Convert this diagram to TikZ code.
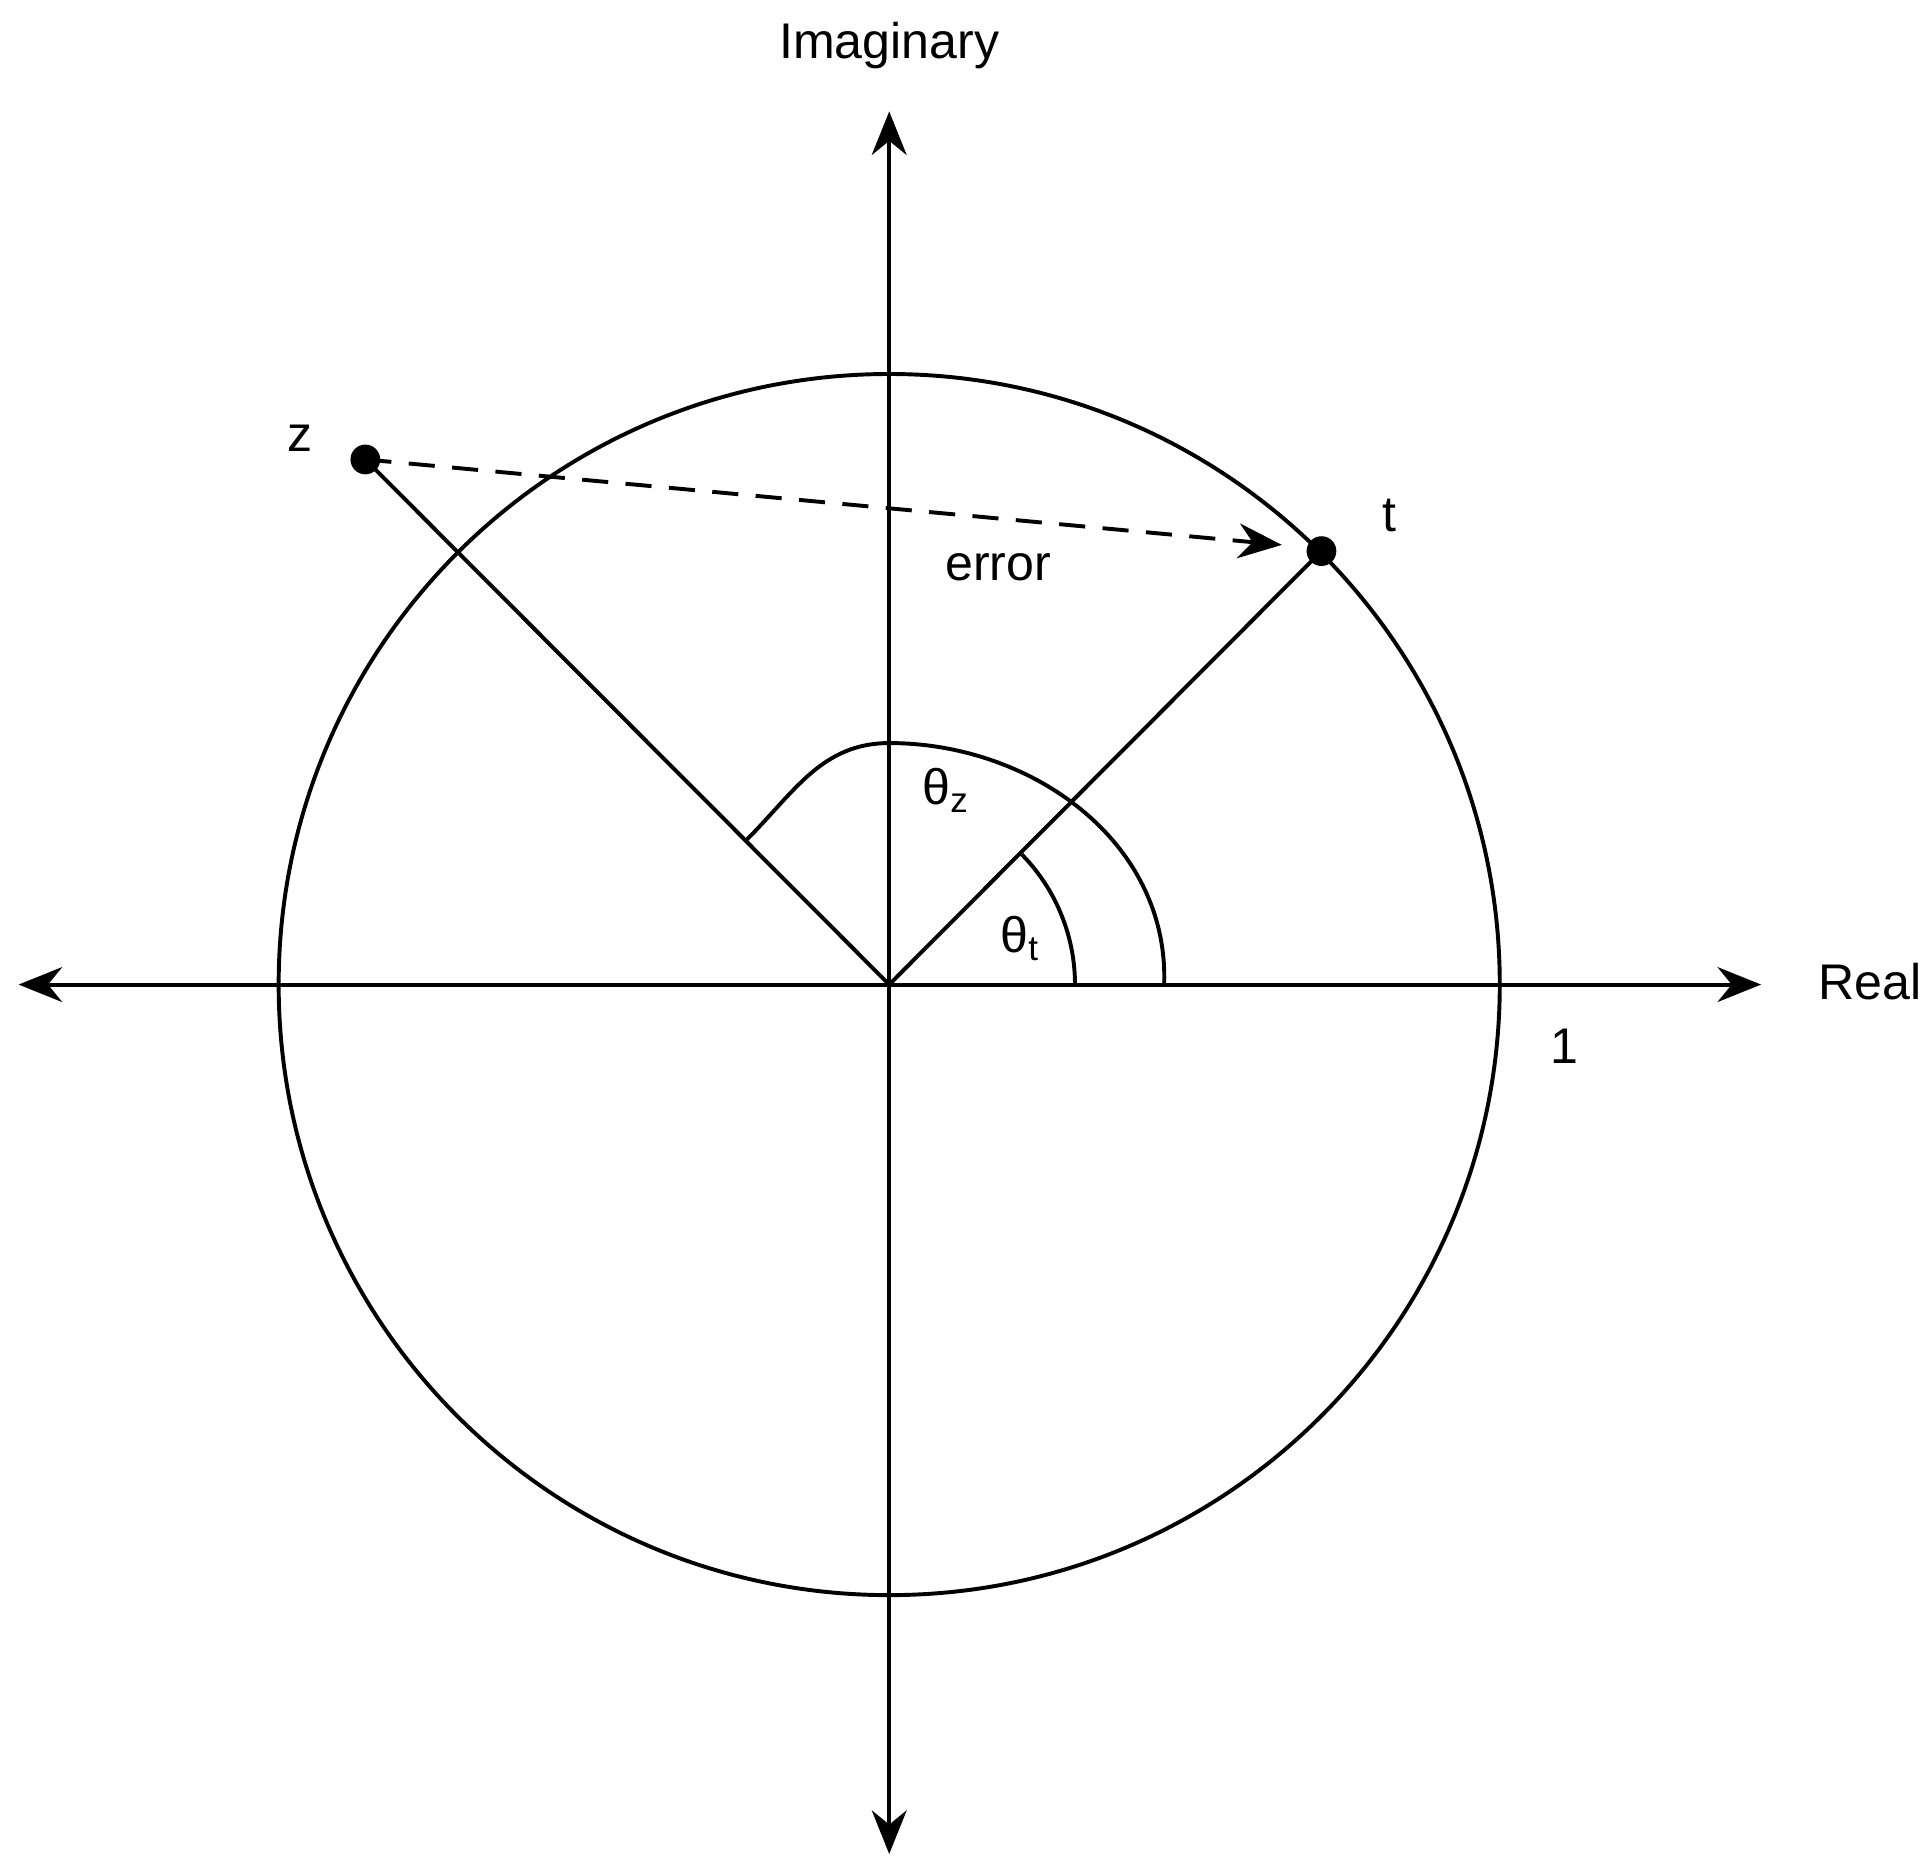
\documentclass[tikz,border=0pt]{standalone}
\usepackage{fontspec}
\setmainfont{Liberation Sans}
\usetikzlibrary{arrows.meta}
\begin{document}
\begin{tikzpicture}[x=0.01cm,y=-0.01cm,line width=0.9pt,
  lbl/.style={font=\fontsize{11.5}{13}\selectfont,inner sep=0pt},
  tip/.style={-{Stealth[length=10pt,width=8pt]}},
  dot/.style={circle,fill=black,inner sep=0pt,minimum size=0.24cm}]
\useasboundingbox (0,0) rectangle (1560,1507);
\coordinate (O) at (718,795);
\coordinate (L) at (15,795);
\coordinate (R) at (1422,795);
\coordinate (T) at (718,90);
\coordinate (B) at (718,1497);
\draw[tip] (O) -- (R);
\draw[tip] (O) -- (L);
\draw[tip] (O) -- (T);
\draw[tip] (O) -- (B);
\draw (O) circle[radius=493];
\node[dot] (z) at (295,371) {};
\node[dot] (t) at (1067,445) {};
\draw (O) -- (z.center);
\draw (O) -- (t.center);
\coordinate (e) at (1035,440);
\draw[dashed,dash pattern=on 6pt off 4pt,-{Stealth[length=10pt,width=8pt]}] (z.center) -- (e);
\draw (940,795) to[out=88,in=0] (718,600) to[out=180,in=45] (603,678);
\draw ([shift={(0:150)}]O) arc[start angle=0,end angle=-45,radius=150];
\node[lbl] (im) at (718,37) {Imaginary};
\node[lbl] (re) at (1510,793) {Real};
\node[lbl] (one) at (1263,845) {1};
\node[lbl] (zl) at (242,354) {z};
\node[lbl] (tl) at (1122,416) {t};
\node[lbl] (er) at (806,458) {error};
\node[lbl] (thz) at (764,638) {θ\textsubscript{z}};
\node[lbl] (tht) at (824,758) {θ\textsubscript{t}};
\end{tikzpicture}
\end{document}
